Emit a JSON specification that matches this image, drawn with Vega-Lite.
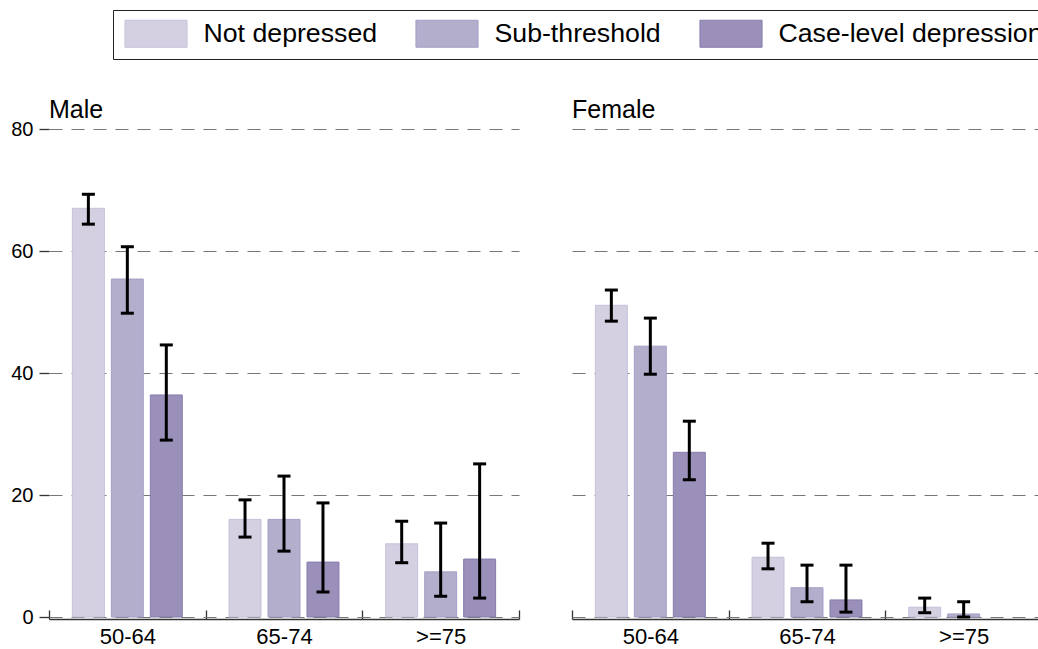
{
  "$schema": "https://vega.github.io/schema/vega-lite/v6.json",
  "padding": {"left": 10, "top": 9, "right": 0, "bottom": 0},
  "background": "white",
  "config": {
    "font": "Liberation Sans",
    "view": {"stroke": null},
    "axis": {"labelFont": "Liberation Sans", "labelColor": "black"}
  },
  "data": {
    "values": [
      {"sex": "Male", "age": "50-64", "group": "Not depressed", "value": 67.0, "lo": 64.4, "hi": 69.3},
      {"sex": "Male", "age": "50-64", "group": "Sub-threshold", "value": 55.4, "lo": 49.8, "hi": 60.7},
      {"sex": "Male", "age": "50-64", "group": "Case-level depression", "value": 36.4, "lo": 29.0, "hi": 44.6},
      {"sex": "Male", "age": "65-74", "group": "Not depressed", "value": 16.0, "lo": 13.1, "hi": 19.2},
      {"sex": "Male", "age": "65-74", "group": "Sub-threshold", "value": 16.0, "lo": 10.8, "hi": 23.1},
      {"sex": "Male", "age": "65-74", "group": "Case-level depression", "value": 9.0, "lo": 4.1, "hi": 18.7},
      {"sex": "Male", "age": ">=75", "group": "Not depressed", "value": 12.0, "lo": 8.9, "hi": 15.7},
      {"sex": "Male", "age": ">=75", "group": "Sub-threshold", "value": 7.4, "lo": 3.4, "hi": 15.4},
      {"sex": "Male", "age": ">=75", "group": "Case-level depression", "value": 9.5, "lo": 3.1, "hi": 25.1},
      {"sex": "Female", "age": "50-64", "group": "Not depressed", "value": 51.1, "lo": 48.5, "hi": 53.6},
      {"sex": "Female", "age": "50-64", "group": "Sub-threshold", "value": 44.4, "lo": 39.8, "hi": 49.0},
      {"sex": "Female", "age": "50-64", "group": "Case-level depression", "value": 27.0, "lo": 22.5, "hi": 32.1},
      {"sex": "Female", "age": "65-74", "group": "Not depressed", "value": 9.8, "lo": 7.9, "hi": 12.1},
      {"sex": "Female", "age": "65-74", "group": "Sub-threshold", "value": 4.8, "lo": 2.5, "hi": 8.5},
      {"sex": "Female", "age": "65-74", "group": "Case-level depression", "value": 2.8, "lo": 0.8, "hi": 8.5},
      {"sex": "Female", "age": ">=75", "group": "Not depressed", "value": 1.6, "lo": 0.7, "hi": 3.1},
      {"sex": "Female", "age": ">=75", "group": "Sub-threshold", "value": 0.5, "lo": 0.0, "hi": 2.5}
    ]
  },
  "facet": {
    "column": {
      "field": "sex",
      "type": "nominal",
      "sort": ["Male", "Female"],
      "header": {
        "title": null,
        "labelAnchor": "start",
        "labelAlign": "left",
        "labelFont": "Liberation Sans",
        "labelFontSize": 25,
        "labelColor": "black",
        "labelPadding": 6
      }
    }
  },
  "spacing": 53,
  "spec": {
    "width": 470,
    "height": 488,
    "encoding": {
      "x": {
        "field": "age",
        "type": "nominal",
        "sort": ["50-64", "65-74", ">=75"],
        "title": null,
        "scale": {"paddingInner": 0, "paddingOuter": 0},
        "axis": {
          "labelAngle": 0,
          "labelFontSize": 22,
          "tickBand": "extent",
          "tickSize": -9,
          "tickColor": "#333333",
          "tickWidth": 1.3,
          "domainColor": "#333333",
          "domainWidth": 1.5,
          "labelPadding": 16,
          "grid": false
        }
      },
      "xOffset": {
        "field": "group",
        "type": "nominal",
        "sort": ["Not depressed", "Sub-threshold", "Case-level depression"],
        "scale": {"domain": ["Not depressed", "Sub-threshold", "Case-level depression"], "paddingInner": 0.18, "paddingOuter": 0.6}
      }
    },
    "layer": [
      {
        "mark": {"type": "bar", "strokeWidth": 1},
        "encoding": {
          "y": {
            "field": "value",
            "type": "quantitative",
            "title": null,
            "scale": {"domain": [0, 80], "nice": false},
            "axis": {
              "values": [0, 20, 40, 60, 80],
              "labelFontSize": 20,
              "labelPadding": 6,
              "tickSize": 10,
              "tickColor": "#333333",
              "tickWidth": 1.3,
              "domain": false,
              "gridColor": "#777777",
              "gridWidth": 1.2,
              "gridDash": [13, 9]
            }
          },
          "fill": {
            "field": "group",
            "type": "nominal",
            "sort": ["Not depressed", "Sub-threshold", "Case-level depression"],
            "scale": {"domain": ["Not depressed", "Sub-threshold", "Case-level depression"], "range": ["#d4d0e2", "#b4aecd", "#9a90b9"]},
            "legend": {
              "title": null,
              "orient": "none",
              "legendX": 64,
              "legendY": -119,
              "direction": "horizontal",
              "strokeColor": "#222222",
              "padding": 9.5,
              "symbolType": "M-2.3,-1H2.3V1H-2.3Z",
              "symbolSize": 729,
              "symbolOffset": 19.5,
              "symbolStrokeWidth": 1,
              "labelOffset": 33.5,
              "columnPadding": 36,
              "labelFont": "Liberation Sans",
              "labelFontSize": 26.7,
              "labelColor": "black",
              "labelLimit": 500
            }
          },
          "stroke": {
            "field": "group",
            "type": "nominal",
            "sort": ["Not depressed", "Sub-threshold", "Case-level depression"],
            "scale": {"domain": ["Not depressed", "Sub-threshold", "Case-level depression"], "range": ["#c6c0da", "#a69ec6", "#877cae"]},
            "legend": null
          }
        }
      },
      {
        "mark": {"type": "rule", "strokeWidth": 3, "color": "black"},
        "encoding": {
          "y": {"field": "lo", "type": "quantitative"},
          "y2": {"field": "hi"}
        }
      },
      {
        "mark": {"type": "tick", "color": "black", "thickness": 3, "size": 13, "opacity": 1},
        "encoding": {"y": {"field": "lo", "type": "quantitative"}}
      },
      {
        "mark": {"type": "tick", "color": "black", "thickness": 3, "size": 13, "opacity": 1},
        "encoding": {"y": {"field": "hi", "type": "quantitative"}}
      }
    ]
  }
}
